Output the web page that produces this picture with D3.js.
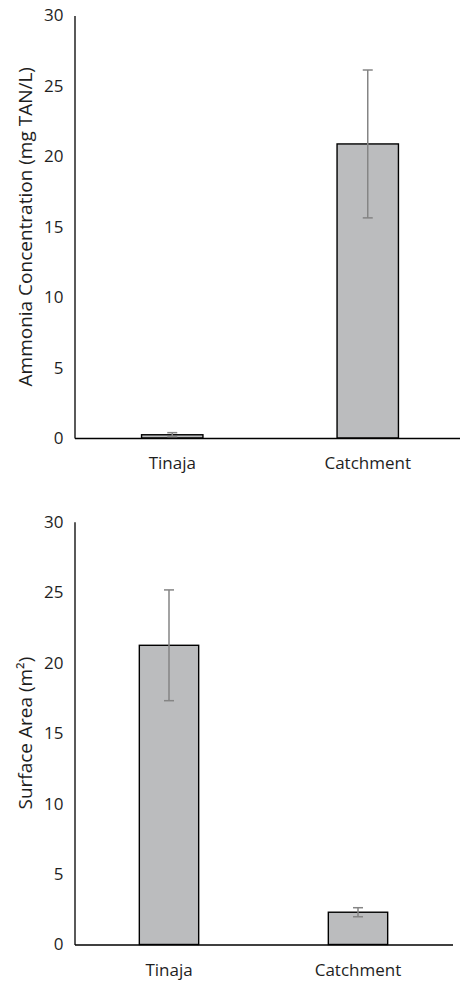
<!DOCTYPE html>
<html>
<head>
<meta charset="utf-8">
<script src="https://cdn.jsdelivr.net/npm/d3@7"></script>
<style>
html,body{margin:0;padding:0;background:#fff;}
svg{display:block;}
text{font-family:"Open Sans",sans-serif;fill:#1e1e1e;}
</style>
</head>
<body>
<svg id="chart" width="460" height="981"></svg>
<script>
const categories = ["Tinaja", "Catchment"];
const yTicks = [0, 5, 10, 15, 20, 25, 30];

const ammoniaTitle = "Ammonia Concentration (mg TAN/L)";
const ammoniaMean = [0.23, 20.88];
const ammoniaErr = [0.15, 5.25];

const areaTitle = "Surface Area (m²)";
const areaMean = [21.23, 2.29];
const areaErr = [3.93, 0.32];

const svg = d3.select("#chart");

function panel(cfg) {
  const x = d3.scaleBand().domain(categories).range([cfg.x0, cfg.x1]).paddingInner(0.686).paddingOuter(0.343);
  const y = d3.scaleLinear().domain([0, 30]).range([cfg.y0, cfg.y1]);
  const g = svg.append("g");

  // bars
  g.selectAll("rect.bar").data(categories).enter().append("rect")
    .attr("x", d => x(d))
    .attr("y", (d, i) => y(cfg.mean[i]))
    .attr("width", x.bandwidth())
    .attr("height", (d, i) => y(0) - y(cfg.mean[i]))
    .attr("fill", "#bbbcbe")
    .attr("stroke", "#000")
    .attr("stroke-width", 1.4);

  // error bars
  const eb = g.selectAll("g.err").data(categories).enter().append("g");
  eb.append("line")
    .attr("x1", d => x(d) + x.bandwidth() / 2)
    .attr("x2", d => x(d) + x.bandwidth() / 2)
    .attr("y1", (d, i) => y(cfg.mean[i] + cfg.err[i]))
    .attr("y2", (d, i) => y(cfg.mean[i] - cfg.err[i]))
    .attr("stroke", "#858585").attr("stroke-width", 1.5);
  [1, -1].forEach(s => {
    eb.append("line")
      .attr("x1", d => x(d) + x.bandwidth() / 2 - 5)
      .attr("x2", d => x(d) + x.bandwidth() / 2 + 5)
      .attr("y1", (d, i) => y(cfg.mean[i] + s * cfg.err[i]))
      .attr("y2", (d, i) => y(cfg.mean[i] + s * cfg.err[i]))
      .attr("stroke", "#858585").attr("stroke-width", 1.5);
  });

  // y axis
  const ya = d3.axisLeft(y).tickValues(yTicks).tickSize(0).tickPadding(11).tickFormat(d3.format("d"));
  const yg = g.append("g").attr("transform", `translate(${cfg.x0},0)`).call(ya);
  yg.select(".domain").attr("stroke", "#000").attr("stroke-width", 1.3);
  yg.selectAll("text").style("font-size", "17px").attr("fill", "#1e1e1e");

  // x axis
  const xa = d3.axisBottom(x).tickSize(0).tickPadding(19);
  const xg = g.append("g").attr("transform", `translate(0,${cfg.y0})`).call(xa);
  xg.select(".domain").attr("stroke", "#000").attr("stroke-width", 1.3);
  xg.selectAll("text").style("font-size", "17px").attr("fill", "#1e1e1e");

  // y title
  g.append("text")
    .attr("transform", `translate(32,${(cfg.y0 + cfg.y1) / 2}) rotate(-90)`)
    .attr("text-anchor", "middle")
    .style("font-size", "19px")
    .text(cfg.title);
}

panel({x0: 74.5, x1: 465.5, y0: 438, y1: 15.5, mean: ammoniaMean, err: ammoniaErr, title: ammoniaTitle});
panel({x0: 74.5, x1: 452.5, y0: 944.5, y1: 521.7, mean: areaMean, err: areaErr, title: areaTitle});
</script>
</body>
</html>
